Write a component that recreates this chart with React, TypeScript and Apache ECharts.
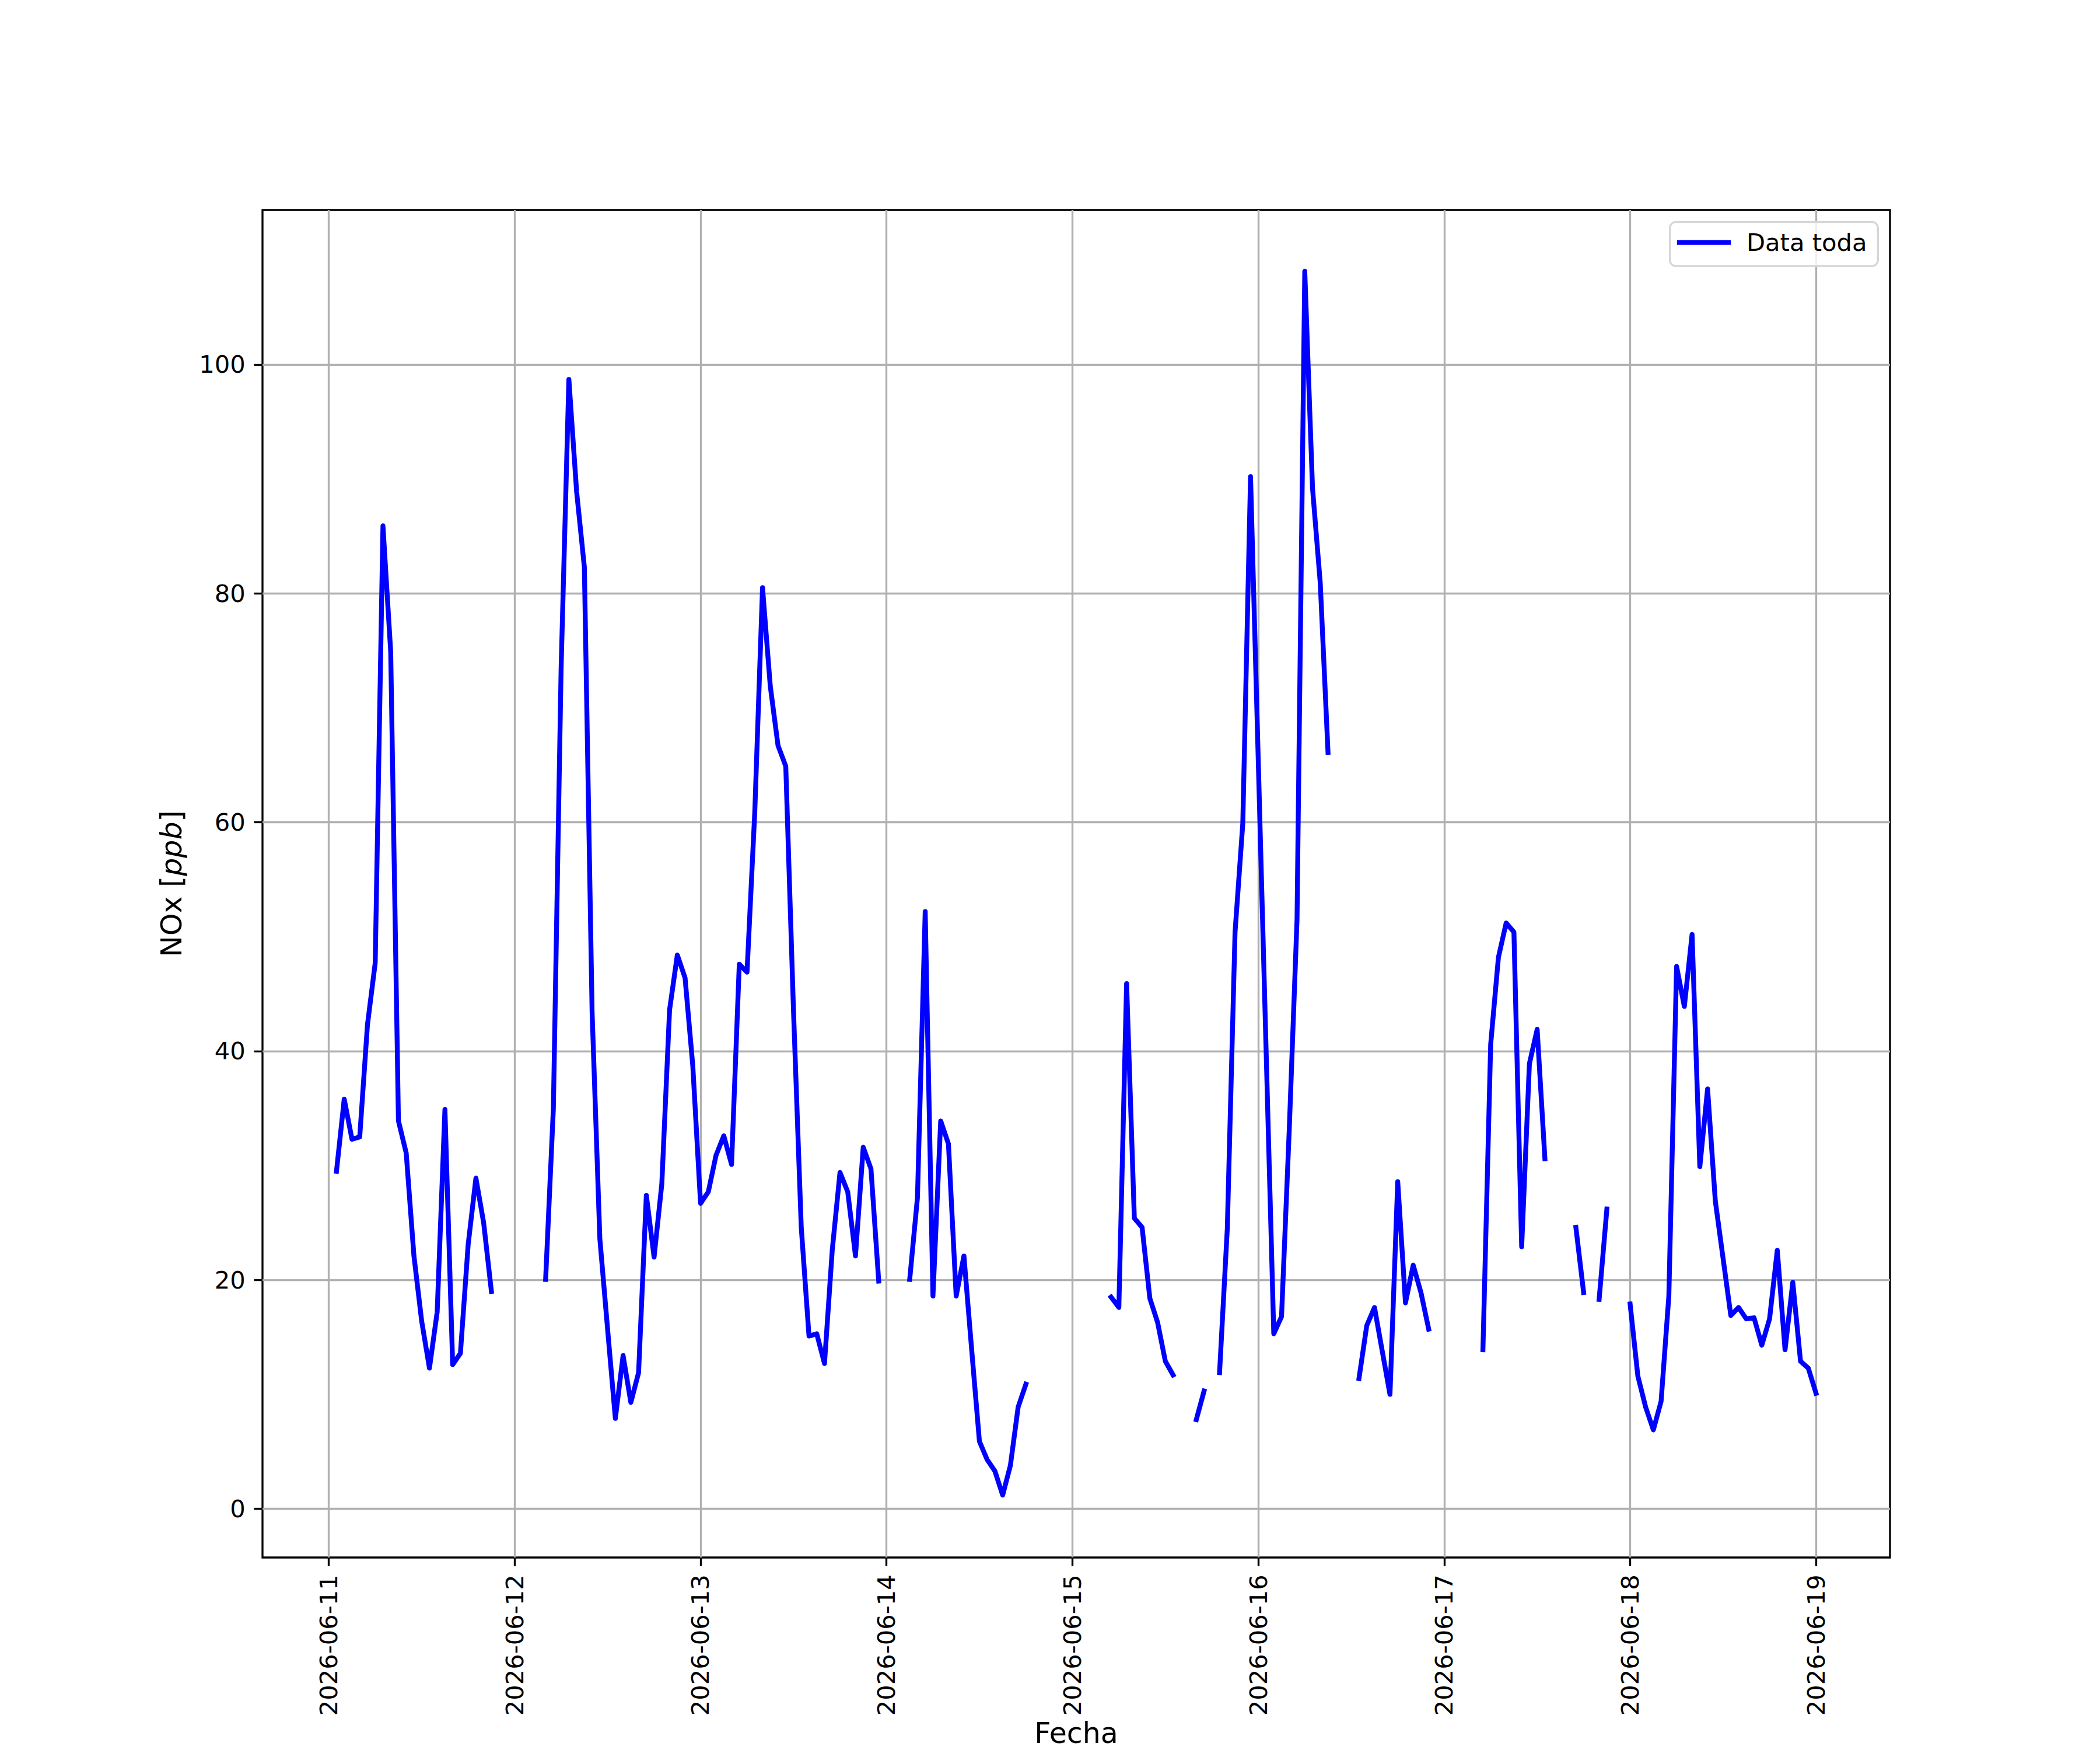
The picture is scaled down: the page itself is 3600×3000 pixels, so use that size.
import React, { useEffect, useRef } from "react";
import * as echarts from "echarts";

// ---- data (hourly NOx, ppb; null = missing) ----
const startYear = 2026;
const startMonth = 5; // June (0-based)
const startDay = 11;

const tickLabels = [
  "2026-06-11", "2026-06-12", "2026-06-13", "2026-06-14", "2026-06-15",
  "2026-06-16", "2026-06-17", "2026-06-18", "2026-06-19",
];
const yTicks = [0, 20, 40, 60, 80, 100];

const nox0611 = [null, 29.5, 35.8, 32.3, 32.5, 42.3, 47.7, 85.9, 74.9, 33.9, 31.1, 22.1, 16.4, 12.3, 17.2, 34.9, 12.6, 13.6, 23.1, 28.9, 25.0, 19.0, null, null];
const nox0612 = [null, null, null, null, 20.05, 35.0, 73.5, 98.7, 88.9, 82.3, 43.4, 23.6, 15.7, 7.9, 13.4, 9.3, 11.9, 27.4, 22.0, 28.4, 43.6, 48.4, 46.4, 38.7];
const nox0613 = [26.7, 27.7, 30.9, 32.6, 30.1, 47.6, 46.9, 60.9, 80.5, 71.9, 66.7, 64.9, 43.5, 24.6, 15.1, 15.3, 12.7, 22.6, 29.4, 27.7, 22.1, 31.6, 29.7, 19.9];
const nox0614 = [null, null, null, 20.05, 27.2, 52.2, 18.6, 33.9, 31.9, 18.6, 22.1, 13.9, 5.9, 4.3, 3.3, 1.2, 3.8, 8.9, 10.9, null, null, null, null, null];
const nox0615 = [null, null, null, null, null, 18.5, 17.6, 45.9, 25.4, 24.6, 18.4, 16.3, 12.9, 11.7, null, null, 7.8, 10.3, null, 11.9, 24.5, 50.4, 59.9, 90.2];
const nox0616 = [65.3, 40.3, 15.3, 16.8, 33.2, 51.5, 108.15, 89.2, 80.9, 66.1, null, null, null, 11.4, 16.0, 17.6, 13.8, 10.0, 28.6, 18.0, 21.3, 18.9, 15.7, null];
const nox0617 = [null, null, null, null, null, 13.9, 40.6, 48.2, 51.2, 50.4, 22.9, 38.9, 41.9, 30.6, null, null, null, 24.6, 18.9, null, 18.3, 26.2, null, null];
const nox0618 = [17.9, 11.6, 8.9, 6.9, 9.4, 18.6, 47.4, 43.9, 50.2, 29.9, 36.7, 26.9, 21.9, 16.9, 17.6, 16.6, 16.7, 14.3, 16.6, 22.6, 13.9, 19.8, 12.9, 12.3];
const nox0619 = [10.1];

const HOUR = 3600000;
const START = Date.UTC(startYear, startMonth, startDay, 0);

function pad2(n: number) {
  return n < 10 ? "0" + n : String(n);
}
function fmtDate(v: number) {
  const d = new Date(v);
  return d.getUTCFullYear() + "-" + pad2(d.getUTCMonth() + 1) + "-" + pad2(d.getUTCDate());
}

export default function App() {
  const ref = useRef<HTMLDivElement>(null);

  useEffect(() => {
    if (!ref.current) return;
    const chart = echarts.init(ref.current, null, { renderer: "svg" });

    const all = [
      ...nox0611, ...nox0612, ...nox0613, ...nox0614, ...nox0615,
      ...nox0616, ...nox0617, ...nox0618, ...nox0619,
    ];
    const data = all.map((v, i) => [START + i * HOUR, v === null ? "-" : v]);
    const tickValues = tickLabels.map((_, i) => Date.UTC(startYear, startMonth, startDay + i));
    const lastT = START + (all.length - 1) * HOUR;
    const firstT = START + 1 * HOUR;
    const span = lastT - firstT;

    const FONT = "DejaVu Sans";
    const TICK_FS = 41.67;
    const LABEL_FS = 49;
    const LW = 3.33;

    chart.setOption({
      animation: false,
      backgroundColor: "#ffffff",
      grid: {
        left: 450,
        top: 360,
        width: 2790,
        height: 2310,
        show: true,
        borderColor: "#000000",
        borderWidth: LW,
        backgroundColor: "transparent",
      },
      xAxis: {
        type: "value",
        min: firstT - 0.05 * span,
        max: lastT + 0.05 * span,
        axisLine: { show: false, onZero: false },
        axisTick: {
          show: true,
          inside: false,
          length: 14.6,
          lineStyle: { color: "#000000", width: LW },
          customValues: tickValues,
        },
        axisLabel: {
          show: true,
          rotate: 90,
          margin: 29.2,
          fontFamily: FONT,
          fontSize: TICK_FS,
          color: "#000000",
          customValues: tickValues,
          formatter: (v: number) => fmtDate(v),
        },
        splitLine: { show: true, lineStyle: { color: "#b0b0b0", width: LW } },
      },
      yAxis: {
        type: "value",
        min: -4.25,
        max: 113.5,
        axisLine: { show: false, onZero: false },
        axisTick: {
          show: true,
          inside: false,
          length: 14.6,
          lineStyle: { color: "#000000", width: LW },
          customValues: yTicks,
        },
        axisLabel: {
          show: true,
          margin: 29.2,
          fontFamily: FONT,
          fontSize: TICK_FS,
          color: "#000000",
          customValues: yTicks,
          formatter: (v: number) => String(v),
        },
        splitLine: { show: true, lineStyle: { color: "#b0b0b0", width: LW } },
      },
      series: [
        {
          name: "Data toda",
          type: "line",
          data,
          showSymbol: false,
          symbol: "none",
          connectNulls: false,
          lineStyle: { color: "#0000ff", width: 8.33, cap: "square", join: "round" },
          itemStyle: { color: "#0000ff" },
          z: 3,
        },
      ],
      graphic: [
        {
          type: "text",
          x: 1845,
          y: 2971,
          style: {
            text: "Fecha",
            fontFamily: FONT,
            fontSize: LABEL_FS,
            fill: "#000000",
            align: "center",
            verticalAlign: "middle",
          },
        },
        {
          type: "text",
          x: 294,
          y: 1515,
          rotation: Math.PI / 2,
          style: {
            text: "NOx [{i|ppb}]",
            fontFamily: FONT,
            fontSize: LABEL_FS,
            fill: "#000000",
            align: "center",
            verticalAlign: "middle",
            rich: {
              i: { fontFamily: FONT, fontSize: LABEL_FS, fontStyle: "italic", fill: "#000000" },
            },
          },
        },
        {
          type: "rect",
          z: 100,
          shape: { x: 2862.7, y: 380.7, width: 356.6, height: 75.3, r: 10 },
          style: { fill: "rgba(255,255,255,0.8)", stroke: "#d6d6d6", lineWidth: LW },
        },
        {
          type: "line",
          z: 101,
          shape: { x1: 2879, y1: 415.7, x2: 2963, y2: 415.7 },
          style: { stroke: "#0000ff", lineWidth: 8.33, lineCap: "square" },
        },
        {
          type: "text",
          z: 101,
          x: 2994,
          y: 415.5,
          style: {
            text: "Data toda",
            fontFamily: FONT,
            fontSize: TICK_FS,
            fill: "#000000",
            align: "left",
            verticalAlign: "middle",
          },
        },
      ],
    });

    return () => chart.dispose();
  }, []);

  return (
    <div
      ref={ref}
      style={{ position: "absolute", left: 0, top: 0, width: 3600, height: 3000 }}
    />
  );
}
